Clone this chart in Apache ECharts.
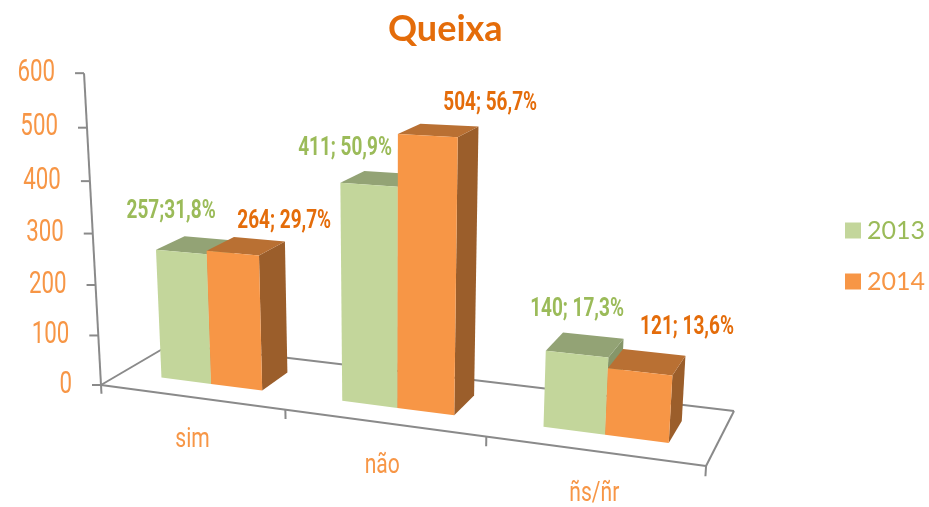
<!DOCTYPE html>
<html>
<head>
<meta charset="utf-8">
<title>Queixa</title>
<style>
    html, body { margin: 0; padding: 0; background: #fff; }
    #chartContainer { width: 929px; height: 507px; }
</style>
<script src="https://cdn.jsdelivr.net/npm/echarts@6/dist/echarts.min.js"></script>
</head>
<body>
<div id="chartContainer"></div>
<script>
const categories = ['sim', 'não', 'ñs/ñr'];
const yTicks = [0, 100, 200, 300, 400, 500, 600];
const values2013 = [257, 411, 140];
const values2014 = [264, 504, 121];
const labels2013 = ['257;31,8%', '411; 50,9%', '140; 17,3%'];
const labels2014 = ['264; 29,7%', '504; 56,7%', '121; 13,6%'];

// labels were moved by hand in the original, offset from the back of each bar top
const labelShift2013 = [[-38, -27], [-47, -24], [-16, -26]];
const labelShift2014 = [[25, -18], [41, -21], [33, -25]];

const GREEN = { front: '#c3d69b', top: '#93a375', side: '#869669', text: '#9bbb59' };
const ORANGE = { front: '#f79646', top: '#b97033', side: '#9b5e2b', text: '#e46c0a' };
const AXIS_COLOR = '#8a8a8a';
const LABEL_COLOR = '#f79646';

const Y_MAX = 600;
const DEPTH_FRONT = 0.29, DEPTH_BACK = 0.70;
const BAR_BAND = 0.285;     // one bar, as a part of the category band
const BAND_SHIFT = 0.015;
const TICK_SHIFT = 0.008;

// perspective camera: s along the category axis, t into the depth, h in axis units
function project(s, t, h) {
    const w = 1 - 0.1543 * s + 0.0823 * t - 0.000093 * h;
    return [
        (496.1 * s + 84.07 * t + 101 - 0.0361 * h) / w,
        (9.1 * s - 12.7 * t + 385 - 0.5265 * h) / w
    ];
}

function heightOf(api, cs, v) {
    return (cs.y + cs.height - api.coord([0, v])[1]) / cs.height * Y_MAX;
}

function face(points, color) {
    return { type: 'polygon', shape: { points }, style: { fill: color }, silent: true };
}

function label(text, p, o) {
    return {
        type: 'text', x: p[0], y: p[1], scaleX: o.scaleX, silent: true,
        style: {
            text, fill: o.color, fontFamily: 'Roboto', fontSize: o.size, fontWeight: o.weight || 'normal',
            textAlign: o.align || 'center', textVerticalAlign: 'middle'
        }
    };
}

function barRenderer(slot, colors, texts, shifts) {
    return function(params, api) {
        const i = api.value(0), v = api.value(1);
        const cs = params.coordSys;
        const band = api.size([1, 0])[0];
        const cx = api.coord([i, 0])[0];
        const s0 = (cx - cs.x + (BAND_SHIFT + (slot - 1) * BAR_BAND) * band) / cs.width;
        const s1 = s0 + BAR_BAND * band / cs.width;
        const h = heightOf(api, cs, v);

        const fbl = project(s0, DEPTH_FRONT, 0), fbr = project(s1, DEPTH_FRONT, 0);
        const ftl = project(s0, DEPTH_FRONT, h), ftr = project(s1, DEPTH_FRONT, h);
        const bbr = project(s1, DEPTH_BACK, 0);
        const btl = project(s0, DEPTH_BACK, h), btr = project(s1, DEPTH_BACK, h);

        const anchor = project((s0 + s1) / 2, DEPTH_BACK, h);
        const shift = shifts[params.dataIndex];

        return {
            type: 'group',
            children: [
                face([fbr, ftr, btr, bbr], colors.side),
                face([ftl, ftr, btr, btl], colors.top),
                face([fbl, fbr, ftr, ftl], colors.front),
                label(texts[params.dataIndex], [anchor[0] + shift[0], anchor[1] + shift[1]],
                    { color: colors.text, size: 25, weight: 'bold', scaleX: 0.76 })
            ]
        };
    };
}

function line(a, b) {
    return {
        type: 'line', silent: true,
        shape: { x1: a[0], y1: a[1], x2: b[0], y2: b[1] },
        style: { stroke: AXIS_COLOR, lineWidth: 2 }
    };
}

function renderFrame(params, api) {
    const cs = params.coordSys;
    const children = [];
    const corners = [project(0, 0, 0), project(1, 0, 0), project(1, 1, 0), project(0, 1, 0)];
    corners.forEach((c, k) => children.push(line(c, corners[(k + 1) % 4])));
    children.push(line(project(0, 0, 0), project(0, 0, Y_MAX)));

    yTicks.forEach(t => {
        const h = heightOf(api, cs, t);
        const p = project(0, 0, h);
        children.push(line([p[0] - 9, p[1]], p));
        children.push(label(String(t), [p[0] - 29, p[1]], { color: LABEL_COLOR, size: 31, scaleX: 0.72, align: 'right' }));
    });

    const n = categories.length;
    for (let k = 0; k <= n; k++) {
        const s = k / n + (k > 0 && k < n ? TICK_SHIFT : 0);
        children.push(line(project(s, 0, 0), project(s, 0, -18)));
    }
    categories.forEach((name, k) => {
        const mid = project((k + 0.5) / n, 0, 0);
        children.push(label(name, [mid[0] + 4, mid[1] + 44], { color: LABEL_COLOR, size: 27, scaleX: 0.78 }));
    });

    return { type: 'group', children };
}

const chart = echarts.init(document.getElementById('chartContainer'));

chart.setOption({
    animation: false,
    backgroundColor: '#fff',
    title: {
        text: 'Queixa', left: 383, top: 6,
        textStyle: { color: ORANGE.text, fontFamily: 'Lato', fontWeight: 'bold', fontSize: 36 }
    },
    legend: {
        orient: 'vertical', left: 840, top: 213,
        itemWidth: 16, itemHeight: 16, itemGap: 26, icon: 'rect',
        textStyle: { fontFamily: 'Lato', fontSize: 25, padding: [0, 0, 0, 1] },
        data: [
            { name: '2013', textStyle: { color: GREEN.text } },
            { name: '2014', textStyle: { color: LABEL_COLOR } }
        ]
    },
    grid: { left: 101, top: 72, width: 605, height: 313 },
    xAxis: { type: 'category', data: categories, show: false },
    yAxis: { type: 'value', min: 0, max: Y_MAX, interval: 100, show: false },
    series: [
        {
            name: 'eixos', type: 'custom', renderItem: renderFrame, z: 1, silent: true,
            data: [[0, 0]], encode: { x: 0, y: 1 }
        },
        {
            name: '2013', type: 'custom', z: 2, silent: true, itemStyle: { color: GREEN.front },
            renderItem: barRenderer(0, GREEN, labels2013, labelShift2013),
            data: values2013.map((v, i) => [i, v]), encode: { x: 0, y: 1 }
        },
        {
            name: '2014', type: 'custom', z: 3, silent: true, itemStyle: { color: LABEL_COLOR },
            renderItem: barRenderer(1, ORANGE, labels2014, labelShift2014),
            data: values2014.map((v, i) => [i, v]), encode: { x: 0, y: 1 }
        }
    ]
});

window.addEventListener('resize', () => chart.resize());
</script>
</body>
</html>
